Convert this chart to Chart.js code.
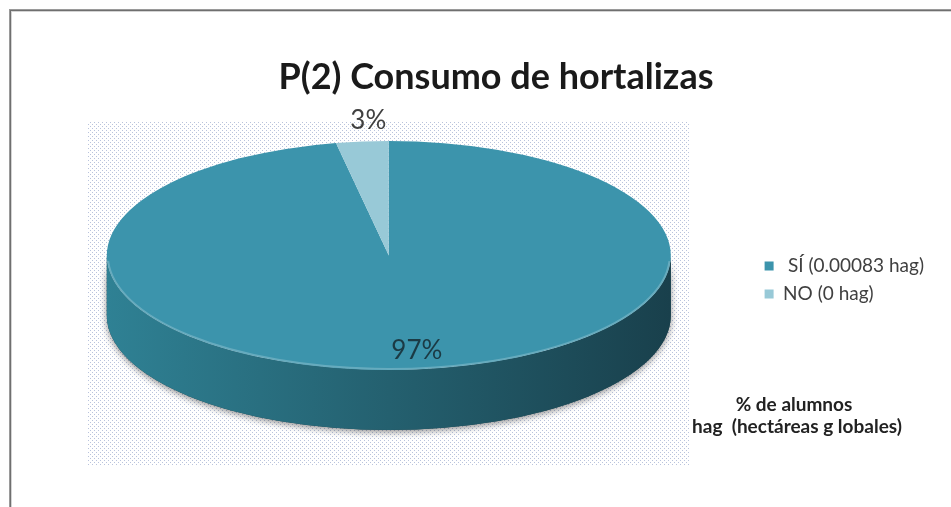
<!DOCTYPE html>
<html lang="es">
<head>
<meta charset="utf-8">
<title>P(2) Consumo de hortalizas</title>
<script src="https://cdn.jsdelivr.net/npm/chart.js@4.4.1/dist/chart.umd.min.js"></script>
<style>
  html, body { margin: 0; padding: 0; background: #fff; }
  #wrap { width: 951px; height: 507px; }
</style>
</head>
<body>
<div id="wrap"><canvas id="chart" width="951" height="507"></canvas></div>
<script>
// Chart data
const categories = [' SÍ (0.00083 hag)', 'NO (0 hag)'];
const percentages = [97, 3];
const percentLabels = ['97%', '3%'];
const chartTitle = 'P(2) Consumo de hortalizas';
const footnoteLines = ['% de alumnos', 'hag  (hectáreas g lobales)'];

// Colours (top face and the side wall of each slice)
const topColors = ['#3c94ac', '#98c9d7'];
const sideColors = [['#2f8194', '#24606f', '#19404c'], ['#6fa3b2', '#5a8e9c', '#4a7885']];

// Look of the tilted pie
const tilt = { rx: 282, ry: 114.5, depth: 60 };
const FONT = 'Lato, "Open Sans", sans-serif';

// Dotted backdrop behind the pie (like the Excel plot area)
let dotPattern = null;
function getDotPattern(ctx) {
  if (dotPattern) return dotPattern;
  const c = document.createElement('canvas');
  c.width = 4; c.height = 4;
  const p = c.getContext('2d');
  p.fillStyle = '#ffffff';
  p.fillRect(0, 0, 4, 4);
  p.fillStyle = '#b9c3dc';
  p.fillRect(0, 0, 1, 1);
  p.fillRect(2, 2, 1, 1);
  dotPattern = ctx.createPattern(c, 'repeat');
  return dotPattern;
}

// Arc geometry from the library -> scale factors for the tilted ellipse
function pieGeometry(chart) {
  const arc = chart.getDatasetMeta(0).data[0];
  const r = arc.outerRadius;
  return { cx: arc.x, cy: arc.y, sx: tilt.rx / r, sy: tilt.ry / r };
}

// parts of [start, end] that are on the front half (0..PI)
function frontRanges(start, end) {
  const out = [];
  for (let k = -1; k <= 1; k++) {
    const s = Math.max(start + k * 2 * Math.PI, 0);
    const e = Math.min(end + k * 2 * Math.PI, Math.PI);
    if (e > s) out.push([s, e]);
  }
  return out;
}

const pie3d = {
  id: 'pie3d',
  beforeDraw(chart) {
    const ctx = chart.ctx;
    ctx.save();
    ctx.fillStyle = '#ffffff';
    ctx.fillRect(0, 0, chart.width, chart.height);
    // outer frame (top and left edges only are visible)
    ctx.strokeStyle = '#9a9a9a';
    ctx.lineWidth = 1;
    ctx.strokeRect(9.5, 9.5, chart.width, chart.height);
    ctx.strokeStyle = '#6f6f6f';
    ctx.strokeRect(10.5, 10.5, chart.width, chart.height);
    ctx.strokeStyle = '#d4d4d4';
    ctx.strokeRect(11.5, 11.5, chart.width, chart.height);
    // plot area
    ctx.fillStyle = getDotPattern(ctx);
    ctx.fillRect(88, 122, 602, 343);
    ctx.restore();
  },
  beforeDatasetsDraw(chart) {
    const ctx = chart.ctx;
    const g = pieGeometry(chart);
    const meta = chart.getDatasetMeta(0);

    // soft shadow under the pie
    ctx.save();
    ctx.shadowColor = 'rgba(0,0,0,0.45)';
    ctx.shadowBlur = 7;
    ctx.shadowOffsetY = 2;
    ctx.fillStyle = sideColors[0][2];
    ctx.beginPath();
    ctx.ellipse(g.cx, g.cy, tilt.rx, tilt.ry, 0, 0, Math.PI);
    ctx.ellipse(g.cx, g.cy + tilt.depth, tilt.rx, tilt.ry, 0, Math.PI, 0, true);
    ctx.closePath();
    ctx.fill();
    ctx.restore();

    // side walls
    meta.data.forEach((arc, i) => {
      frontRanges(arc.startAngle, arc.endAngle).forEach(([s, e]) => {
        const grad = ctx.createLinearGradient(g.cx - tilt.rx, 0, g.cx + tilt.rx, 0);
        grad.addColorStop(0, sideColors[i][0]);
        grad.addColorStop(0.5, sideColors[i][1]);
        grad.addColorStop(1, sideColors[i][2]);
        ctx.save();
        ctx.fillStyle = grad;
        ctx.beginPath();
        ctx.ellipse(g.cx, g.cy, tilt.rx, tilt.ry, 0, s, e);
        ctx.ellipse(g.cx, g.cy + tilt.depth, tilt.rx, tilt.ry, 0, e, s, true);
        ctx.closePath();
        ctx.fill();
        ctx.restore();
      });
    });

    // top face: squash the library's pie into an ellipse
    ctx.save();
    ctx.translate(g.cx, g.cy);
    ctx.scale(g.sx, g.sy);
    ctx.translate(-g.cx, -g.cy);
  },
  afterDatasetsDraw(chart) {
    const ctx = chart.ctx;
    ctx.restore();
    const g = pieGeometry(chart);
    const meta = chart.getDatasetMeta(0);

    // light rim on the front edge of the top face
    ctx.save();
    ctx.strokeStyle = 'rgba(255,255,255,0.22)';
    ctx.lineWidth = 2;
    ctx.beginPath();
    ctx.ellipse(g.cx, g.cy, tilt.rx - 1, tilt.ry - 1, 0, 0.05, Math.PI - 0.05);
    ctx.stroke();
    ctx.restore();

    // percentage labels
    ctx.save();
    ctx.font = '26px ' + FONT;
    ctx.textAlign = 'center';
    ctx.textBaseline = 'middle';
    meta.data.forEach((arc, i) => {
      const mid = (arc.startAngle + arc.endAngle) / 2;
      if (percentages[i] > 10) {
        ctx.fillStyle = '#1b3a44';
        ctx.fillText(percentLabels[i],
          g.cx + 0.83 * tilt.rx * Math.cos(mid) + 6,
          g.cy + 0.83 * tilt.ry * Math.sin(mid));
      } else {
        ctx.fillStyle = '#404040';
        ctx.fillText(percentLabels[i],
          g.cx + tilt.rx * Math.cos(mid) + 6,
          g.cy + tilt.ry * Math.sin(mid) - 21);
      }
    });
    ctx.restore();

    // title
    ctx.save();
    ctx.fillStyle = '#1a1a1a';
    ctx.textAlign = 'center';
    ctx.textBaseline = 'middle';
    ctx.font = 'bold 36px ' + FONT;
    ctx.fillText(chartTitle, 496, 77);

    // axis note, bottom right
    ctx.font = 'bold 19px ' + FONT;
    ctx.fillStyle = '#222222';
    ctx.fillText(footnoteLines[0], 794, 405);
    ctx.fillText(footnoteLines[1], 797, 427);
    ctx.restore();
  }
};

const ctx = document.getElementById('chart');

new Chart(ctx, {
  type: 'pie',
  data: {
    labels: categories,
    datasets: [{
      data: percentages,
      backgroundColor: topColors,
      borderWidth: 0
    }]
  },
  options: {
    responsive: false,
    animation: false,
    events: [],
    layout: {
      padding: { left: 22, right: 17, top: 55, bottom: 51 }
    },
    plugins: {
      legend: {
        position: 'right',
        title: {
          display: true,
          text: ' ',
          font: { size: 10 },
          padding: { top: 37, bottom: 0 }
        },
        labels: {
          boxWidth: 9,
          boxHeight: 9,
          padding: 9,
          color: '#404040',
          font: { family: FONT, size: 19 }
        }
      },
      tooltip: { enabled: false }
    }
  },
  plugins: [pie3d]
});
</script>
</body>
</html>
